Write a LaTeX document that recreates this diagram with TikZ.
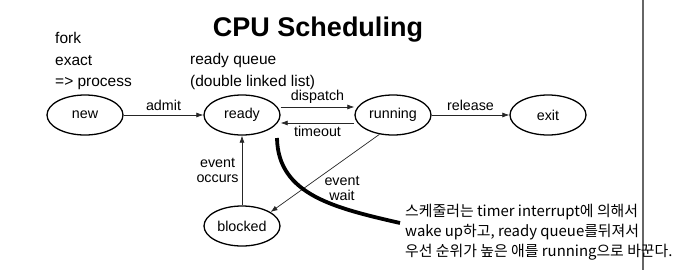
\documentclass[tikz,border=0pt]{standalone}
\usepackage{fontspec}
\setmainfont{Liberation Sans}
\newfontfamily\krfont{Noto Sans CJK KR}
\usetikzlibrary{shapes.geometric,arrows.meta}
\begin{document}
\begin{tikzpicture}[x=1pt,y=-1pt,
  state/.style={ellipse,draw,line width=1.3pt,minimum width=76pt,minimum height=40pt,inner sep=0pt,font=\fontsize{14.3}{16}\selectfont},
  trans/.style={draw=black!85,line width=0.7pt,-{Latex[length=7pt,width=5pt]}},
  lbl/.style={font=\fontsize{14.3}{15}\selectfont,inner sep=0pt,align=center},
  note/.style={font=\fontsize{15.5}{18}\selectfont,inner sep=0pt,anchor=base west},
  krnote/.style={font=\krfont\fontsize{14.9}{18}\selectfont,inner sep=0pt,anchor=base west}]
\useasboundingbox (0,0) rectangle (680,270);
% separator
\coordinate (sepTop) at (643,0);
\coordinate (sepBot) at (643,270);
\draw[line width=1.5pt,black!60] (sepTop) -- (sepBot);
% title
\node[font=\fontsize{27}{30}\selectfont\bfseries] (title) at (318,30) {CPU Scheduling};
% notes
\node[note] (n1) at (55,44) {fork};
\node[note] (n2) at (55,65.5) {exact};
\node[note] (n3) at (55,87) {=> process};
\node[note] (q1) at (190,64) {ready queue};
\node[note] (q2) at (190,86) {(double linked list)};
% states
\node[state] (new) at (85,115) {new};
\node[state] (ready) at (242,115) {ready};
\node[state] (running) at (393,115) {running};
\node[state] (exit) at (548,115) {exit};
\node[state] (blocked) at (242,226) {blocked};
% transitions
\draw[trans] (new) -- node[lbl,above=4pt] {admit} (ready);
\draw[trans] ([yshift=8pt]ready.east) -- node[lbl,above=3pt] {dispatch} ([yshift=8pt]running.west);
\draw[trans] ([yshift=-8pt]running.west) -- node[lbl,below=3pt] {timeout} ([yshift=-8pt]ready.east);
\draw[trans] (running) -- node[lbl,above=4pt] {release} (exit);
\draw[trans] (blocked) -- node[lbl,left=3pt] {event\\occurs} (ready);
\draw[trans] (running.235) -- (blocked.26);
\node[lbl] (ewait) at (342,188) {event\\wait};
% thick curve
\coordinate (cs) at (277,138);
\coordinate (ce) at (400,223);
\draw[line width=3.8pt] (cs) .. controls (278,195) and (335,208) .. (ce);
% korean note
\node[krnote] (k1) at (405,216) {스케줄러는 timer interrupt에 의해서};
\node[krnote] (k2) at (405,236) {wake up하고, ready queue를뒤져서};
\node[krnote] (k3) at (405,256) {우선 순위가 높은 애를 running으로 바꾼다.};
\end{tikzpicture}
\end{document}
